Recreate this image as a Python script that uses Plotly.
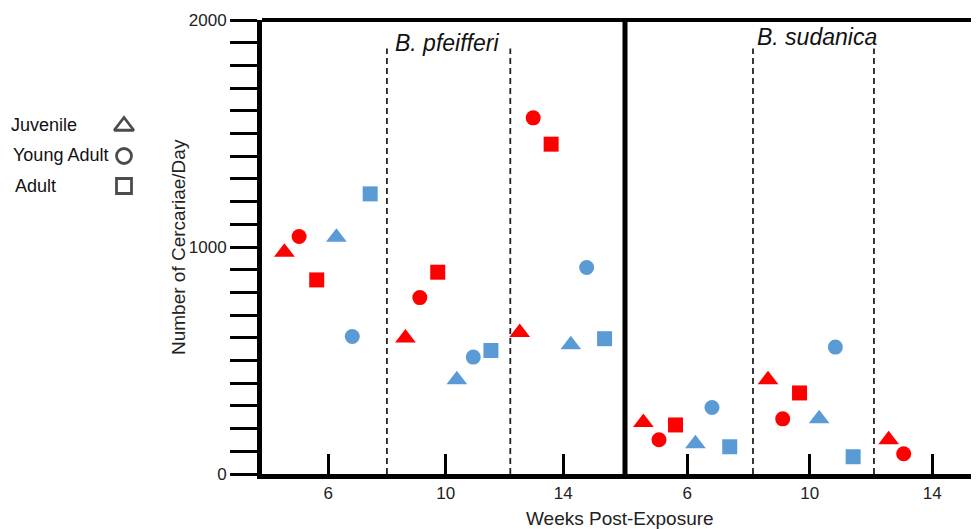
import plotly.graph_objects as go

# ---------------- data ----------------
y_tick_vals = list(range(0, 2001, 100))
y_tick_text = ["0" if v == 0 else "1000" if v == 1000 else "2000" if v == 2000 else "" for v in y_tick_vals]
x_tick_vals = [6, 10, 14]
x_tick_text = ["6", "10", "14"]

panel_titles = ["B. pfeifferi", "B. sudanica"]
stage_names = ["Juvenile", "Young Adult", "Adult"]

# B. pfeifferi (left panel)
pf_red_tri_x = [4.51, 8.63, 12.52]
pf_red_tri_y = [977, 599, 623]
pf_red_cir_x = [5.01, 9.12, 12.98]
pf_red_cir_y = [1046, 777, 1569]
pf_red_sq_x = [5.61, 9.73, 13.59]
pf_red_sq_y = [855, 889, 1453]
pf_blue_tri_x = [6.28, 10.38, 14.26]
pf_blue_tri_y = [1043, 415, 569]
pf_blue_cir_x = [6.82, 10.94, 14.80]
pf_blue_cir_y = [606, 515, 910]
pf_blue_sq_x = [7.43, 11.54, 15.41]
pf_blue_sq_y = [1234, 544, 596]

# B. sudanica (right panel)
sd_red_tri_x = [4.57, 8.64, 12.58]
sd_red_tri_y = [227, 415, 151]
sd_red_cir_x = [5.08, 9.12, 13.07]
sd_red_cir_y = [151, 243, 89]
sd_red_sq_x = [5.62, 9.67]
sd_red_sq_y = [216, 357]
sd_blue_tri_x = [6.27, 10.31]
sd_blue_tri_y = [133, 243]
sd_blue_cir_x = [6.81, 10.84]
sd_blue_cir_y = [293, 559]
sd_blue_sq_x = [7.39, 11.42]
sd_blue_sq_y = [120, 76]

pf_dividers = [8.0, 12.2]
sd_dividers = [8.15, 12.1]

RED = "#FF0000"
BLUE = "#5B9BD5"
FONT = "Liberation Sans, Arial, sans-serif"

# page body has an 8px margin: work in reference pixels and offset
OFF = 8
W, H = 979 - OFF, 529 - OFF
TOP_REF, BOT_REF = 20, 474
PLOT_H = BOT_REF - TOP_REF


def px(xr):
    return (xr - OFF) / W


def py(yr):
    return (BOT_REF - yr) / PLOT_H


fig = go.Figure()
SIZES = {"triangle-up": 18, "circle": 15, "square": 15}


def add(xs, ys, color, symbol, xaxis):
    fig.add_trace(go.Scatter(
        x=xs, y=ys, mode="markers", xaxis=xaxis, yaxis="y",
        marker=dict(color=color, symbol=symbol, size=SIZES[symbol], line=dict(width=0)),
        cliponaxis=False, showlegend=False, hoverinfo="x+y"))


for xs, ys, c, s in [
    (pf_red_tri_x, pf_red_tri_y, RED, "triangle-up"),
    (pf_red_cir_x, pf_red_cir_y, RED, "circle"),
    (pf_red_sq_x, pf_red_sq_y, RED, "square"),
    (pf_blue_tri_x, pf_blue_tri_y, BLUE, "triangle-up"),
    (pf_blue_cir_x, pf_blue_cir_y, BLUE, "circle"),
    (pf_blue_sq_x, pf_blue_sq_y, BLUE, "square"),
]:
    add(xs, ys, c, s, "x")

for xs, ys, c, s in [
    (sd_red_tri_x, sd_red_tri_y, RED, "triangle-up"),
    (sd_red_cir_x, sd_red_cir_y, RED, "circle"),
    (sd_red_sq_x, sd_red_sq_y, RED, "square"),
    (sd_blue_tri_x, sd_blue_tri_y, BLUE, "triangle-up"),
    (sd_blue_cir_x, sd_blue_cir_y, BLUE, "circle"),
    (sd_blue_sq_x, sd_blue_sq_y, BLUE, "square"),
]:
    add(xs, ys, c, s, "x2")

# legend symbols on a hidden axis in the left margin
fig.add_trace(go.Scatter(
    x=[0, 0, 0], y=[2, 1, 0], mode="markers", xaxis="x3", yaxis="y3",
    marker=dict(color="black", symbol=["triangle-up-open", "circle-open", "square-open"],
                size=[17, 15, 15], line=dict(width=2.8, color="black")),
    showlegend=False, hoverinfo="skip", cliponaxis=False))

L_left, L_mid = 262, 625
d_left = [px(L_left), px(L_mid)]
d_right = [px(L_mid), 1.0]

xaxis_common = dict(
    showgrid=False, zeroline=False, showline=True, linecolor="black", linewidth=5,
    ticks="inside", ticklen=20, tickwidth=3, tickcolor="black",
    tickvals=x_tick_vals, ticktext=x_tick_text,
    tickfont=dict(family=FONT, size=17, color="#222"),
    anchor="y", fixedrange=True)

dom3_w = 0.2 * W
sym_x = 124 - OFF
fig.update_layout(
    width=W, height=H,
    margin=dict(l=0, r=0, t=TOP_REF - OFF, b=H - (BOT_REF - OFF)),
    paper_bgcolor="white", plot_bgcolor="white",
    xaxis=dict(domain=d_left, range=[3.747, 16.105], **xaxis_common),
    xaxis2=dict(domain=d_right, range=[3.97, 15.53], **xaxis_common),
    yaxis=dict(
        anchor="x", range=[0, 2000], showgrid=False, zeroline=False,
        showline=True, linecolor="black", linewidth=5,
        ticks="outside", ticklen=27, tickwidth=3, tickcolor="black",
        tickvals=y_tick_vals, ticktext=y_tick_text,
        tickfont=dict(family=FONT, size=17, color="#222"), fixedrange=True),
    xaxis3=dict(domain=[0, 0.2], range=[-sym_x, dom3_w - sym_x], visible=False, anchor="y3", fixedrange=True),
    yaxis3=dict(domain=[py(201), py(111)], range=[-0.5, 2.5], visible=False, anchor="x3", fixedrange=True),
)

shapes = []
shapes.append(dict(type="line", xref="paper", yref="paper", x0=px(L_left), x1=1.0, y0=1, y1=1,
                   line=dict(color="black", width=4)))
shapes.append(dict(type="line", xref="paper", yref="paper", x0=px(L_mid), x1=px(L_mid), y0=0, y1=1,
                   line=dict(color="black", width=5)))
for xv in pf_dividers:
    shapes.append(dict(type="line", xref="x", yref="y", x0=xv, x1=xv, y0=0, y1=1875,
                       line=dict(color="#222", width=1.8, dash="6px,4px")))
for xv in sd_dividers:
    shapes.append(dict(type="line", xref="x2", yref="y", x0=xv, x1=xv, y0=0, y1=1875,
                       line=dict(color="#222", width=1.8, dash="6px,4px")))
fig.update_layout(shapes=shapes)

ann = []
ann.append(dict(text="<i>" + panel_titles[0] + "</i>", xref="paper", yref="paper",
                x=px(447), y=py(43), showarrow=False,
                font=dict(family=FONT, size=23, color="#111"), xanchor="center", yanchor="middle"))
ann.append(dict(text="<i>" + panel_titles[1] + "</i>", xref="paper", yref="paper",
                x=px(817), y=py(37), showarrow=False,
                font=dict(family=FONT, size=23, color="#111"), xanchor="center", yanchor="middle"))
ann.append(dict(text="Number of Cercariae/Day", xref="paper", yref="paper",
                x=px(178), y=py(247), showarrow=False, textangle=-90,
                font=dict(family=FONT, size=19, color="#222"), xanchor="center", yanchor="middle"))
ann.append(dict(text="Weeks Post-Exposure", xref="paper", yref="paper",
                x=px(620), y=py(518), showarrow=False,
                font=dict(family=FONT, size=19, color="#222"), xanchor="center", yanchor="middle"))
for name, yy, xx in zip(stage_names, [125, 155, 186], [9, 11, 13]):
    ann.append(dict(text=name, xref="paper", yref="paper", x=px(xx), y=py(yy),
                    showarrow=False, font=dict(family=FONT, size=18, color="#111"),
                    xanchor="left", yanchor="middle"))
fig.update_layout(annotations=ann)

fig.write_html("out.html")
